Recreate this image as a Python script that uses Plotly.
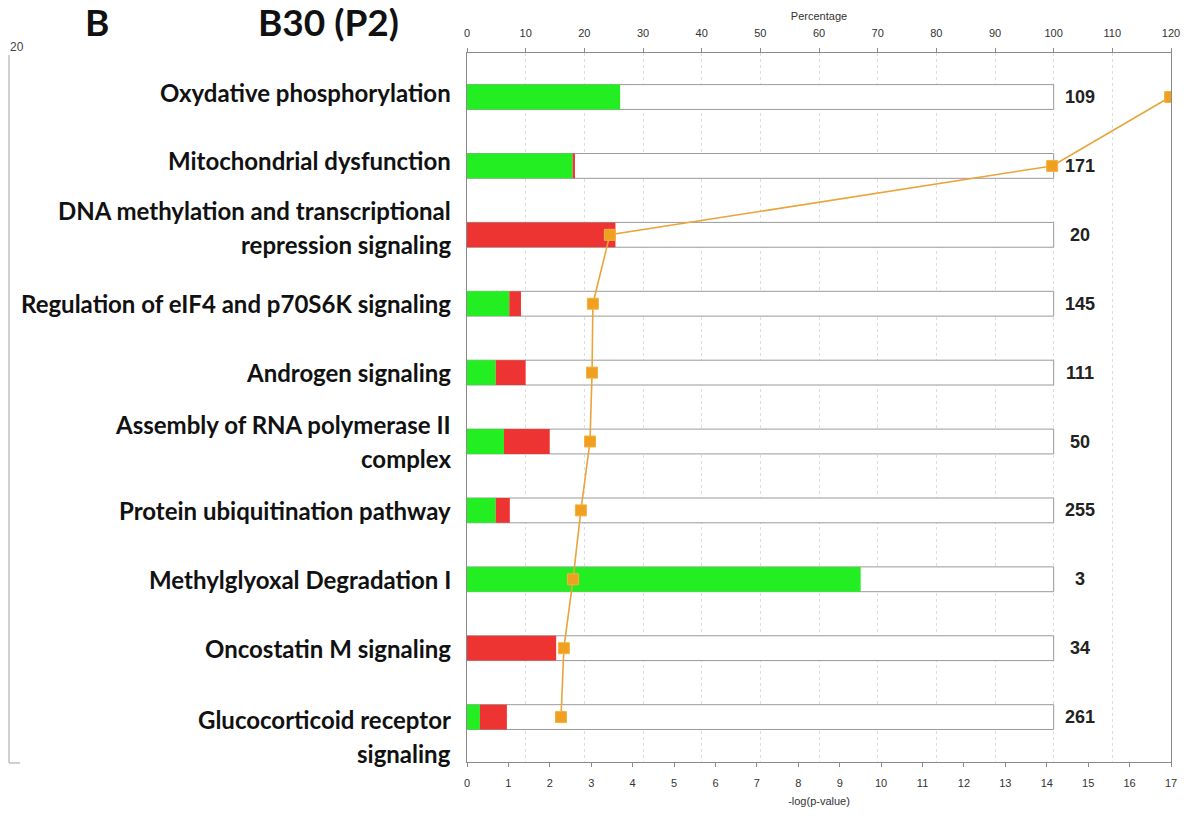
import plotly.graph_objects as go

# ---------------- data ----------------
categories = [
    "Oxydative phosphorylation",
    "Mitochondrial dysfunction",
    "DNA methylation and transcriptional<br>repression signaling",
    "Regulation of eIF4 and p70S6K signaling",
    "Androgen signaling",
    "Assembly of RNA polymerase II<br>complex",
    "Protein ubiquitination pathway",
    "Methylglyoxal Degradation I",
    "Oncostatin M signaling",
    "Glucocorticoid receptor<br>signaling",
]
pct_up = [26.1, 18.0, 0.0, 7.2, 4.9, 6.3, 4.9, 67.1, 0.0, 2.2]      # green
pct_down = [0.0, 0.4, 25.3, 2.0, 5.1, 7.8, 2.4, 0.0, 15.2, 4.6]     # red
total_genes = [109, 171, 20, 145, 111, 50, 255, 3, 34, 261]
neglog_p = [16.98, 14.13, 3.45, 3.04, 3.02, 2.97, 2.75, 2.56, 2.34, 2.27]

pct_ticks = list(range(0, 121, 10))
logp_ticks = list(range(0, 18))
full_pct = [100] * len(categories)

# ---------------- layout geometry (page has an 8px body margin) ----------------
OFF = 8
W, H = 1191 - OFF, 822 - OFF
L, R, T, B = 467 - OFF, 20, 53 - OFF, 60
PW, PH = W - L - R, H - T - B


def px(sx):
    return (sx - OFF - L) / PW


def py(sy):
    return (H - B - (sy - OFF)) / PH


ids = list(range(len(categories)))

fig = go.Figure()

# white background box up to 100 %
fig.add_trace(go.Bar(
    x=full_pct, y=ids, orientation="h", xaxis="x", yaxis="y",
    marker=dict(color="white", line=dict(color="#9a9a9a", width=1)),
    width=0.36, showlegend=False, hoverinfo="skip"))
# green
fig.add_trace(go.Bar(
    x=pct_up, y=ids, orientation="h", xaxis="x", yaxis="y",
    marker=dict(color="#22EE22", line=dict(width=0)),
    width=0.36, showlegend=False))
# red, stacked after green
fig.add_trace(go.Bar(
    x=pct_down, y=ids, base=pct_up, orientation="h", xaxis="x", yaxis="y",
    marker=dict(color="#EE3333", line=dict(width=0)),
    width=0.36, showlegend=False))
# -log(p) line (overlay axis -> drawn above the bars)
fig.add_trace(go.Scatter(
    x=neglog_p, y=ids, xaxis="x2", yaxis="y", mode="lines+markers",
    line=dict(color="#E9A43A", width=1.6),
    marker=dict(symbol="square", size=11, color="#F0A020",
                line=dict(color="#F5B040", width=1)),
    showlegend=False))

annotations = []
# category labels (left, bold), one annotation per text line
label_shift = [5, 5, 7, 0, 0, 0, 0, 0, 0, -19]
line_gap = 34
for i, lab in enumerate(categories):
    lines = lab.split("<br>")
    n = len(lines)
    for k, ln in enumerate(lines):
        off = ((n - 1) / 2 - k) * line_gap + label_shift[i]
        annotations.append(dict(
            text="<b>%s</b>" % ln, xref="paper", yref="y", x=0, y=i,
            xshift=-14, yshift=off,
            xanchor="right", yanchor="middle", showarrow=False,
            font=dict(family="Lato", size=24, color="#111111")))

# gene totals on the right
for i, n in enumerate(total_genes):
    annotations.append(dict(
        text="<b>%d</b>" % n, xref="x", yref="y", x=100, y=i, xshift=26,
        xanchor="center", yanchor="middle", showarrow=False,
        font=dict(family="Liberation Sans", size=18, color="#222222")))

# panel titles
annotations.append(dict(text="<b>B</b>", xref="paper", yref="paper",
                        x=px(97), y=py(21), xanchor="center", yanchor="middle",
                        showarrow=False,
                        font=dict(family="Lato", size=37, color="#111111")))
annotations.append(dict(text="<b>B30 (P2)</b>", xref="paper", yref="paper",
                        x=px(328), y=py(21), xanchor="center", yanchor="middle",
                        showarrow=False,
                        font=dict(family="Lato", size=37, color="#111111")))
# remnant of neighbouring panel
annotations.append(dict(text="20", xref="paper", yref="paper",
                        x=px(8), y=py(47), xanchor="left", yanchor="middle",
                        showarrow=False,
                        font=dict(family="Liberation Sans", size=12, color="#444444")))

shapes = [
    dict(type="line", xref="paper", yref="paper", x0=px(9), x1=px(9),
         y0=py(55), y1=py(763), line=dict(color="#c0c0c0", width=1.5)),
    dict(type="line", xref="paper", yref="paper", x0=px(9), x1=px(20),
         y0=py(763), y1=py(763), line=dict(color="#c0c0c0", width=1.5)),
]

axis_font = dict(family="Liberation Sans", size=11, color="#333333")

fig.update_layout(
    width=W, height=H,
    margin=dict(l=L, r=R, t=T, b=B, autoexpand=False),
    paper_bgcolor="white", plot_bgcolor="white",
    barmode="overlay",
    annotations=annotations, shapes=shapes,
    xaxis=dict(range=[0, 120], tickvals=pct_ticks, side="top",
               showgrid=True, gridcolor="#dddddd", griddash="dot", gridwidth=1,
               zeroline=False, showline=True, linecolor="#8a8a8a", linewidth=1,
               ticks="outside", ticklen=4, tickcolor="#8a8a8a",
               tickfont=axis_font, ticklabelstandoff=7, automargin=False,
               title=dict(text="Percentage", font=axis_font, standoff=3)),
    xaxis2=dict(range=[0, 17], tickvals=logp_ticks, side="bottom",
                overlaying="x", anchor="y",
                showgrid=False, zeroline=False, showline=True,
                linecolor="#8a8a8a", linewidth=1, ticks="outside", ticklen=4,
                tickcolor="#8a8a8a", tickfont=axis_font, ticklabelstandoff=7,
                automargin=False,
                title=dict(text="-log(p-value)", font=axis_font, standoff=9)),
    yaxis=dict(range=[9.652, -0.639], showticklabels=False, showgrid=False,
               zeroline=False, showline=True, linecolor="#8a8a8a", linewidth=1,
               mirror=True, ticks="", automargin=False),
)

fig.write_html("out.html")
